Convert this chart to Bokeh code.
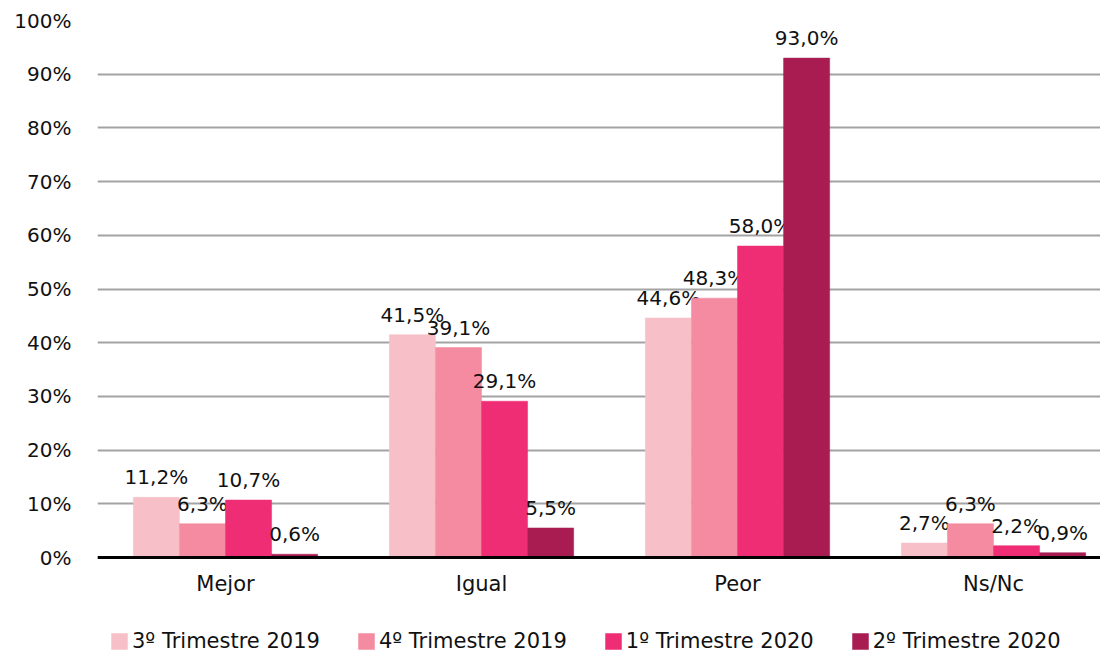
from bokeh.plotting import figure
from bokeh.models import Range1d, FixedTicker, PrintfTickFormatter, Legend, LegendItem, ColumnDataSource
from bokeh.embed import file_html
from bokeh.resources import INLINE
from bokeh.core.properties import value

categories = ["Mejor", "Igual", "Peor", "Ns/Nc"]
series_names = ["3º Trimestre 2019", "4º Trimestre 2019", "1º Trimestre 2020", "2º Trimestre 2020"]
t3_2019 = [11.2, 41.5, 44.6, 2.7]
t4_2019 = [6.3, 39.1, 48.3, 6.3]
t1_2020 = [10.7, 29.1, 58.0, 2.2]
t2_2020 = [0.6, 5.5, 93.0, 0.9]
series_values = [t3_2019, t4_2019, t1_2020, t2_2020]
colors = ["#F7C0C9", "#F48BA0", "#EE2D74", "#A91C52"]
y_ticks = [0, 10, 20, 30, 40, 50, 60, 70, 80, 90, 100]

FONT = "DejaVu Sans"
bar_w = 0.18
W, H = 1100, 653
frame_left, frame_top, zero_px = 97, 20, 557
x_end = (W - frame_left) / 256
px_per_unit = (zero_px - frame_top) / 100
y_start = -(H - zero_px) / px_per_unit

p = figure(width=W, height=H, output_backend="svg", toolbar_location=None,
           x_range=Range1d(0, x_end), y_range=Range1d(y_start, 100),
           min_border_left=frame_left, min_border_right=0, min_border_top=frame_top,
           min_border_bottom=0)
p.outline_line_color = None
p.background_fill_color = "white"
p.border_fill_color = "white"

items = []
for i, (name, vals, col) in enumerate(zip(series_names, series_values, colors)):
    off = (i - 1.5) * bar_w
    xs = [k + 0.5 + off for k in range(len(categories))]
    labels = [f"{v:.1f}".replace(".", ",") + "%" for v in vals]
    src = ColumnDataSource(dict(x=xs, top=vals, label=labels))
    r = p.vbar(x="x", top="top", bottom=0, width=bar_w, source=src,
               fill_color=col, line_color=col, line_width=0.5)
    p.text(x="x", y="top", text="label", source=src, text_align="center",
           text_baseline="bottom", y_offset=-8, text_font=value(FONT),
           text_font_size="20px", text_color="#111111")
    items.append(LegendItem(label=name, renderers=[r]))

# axes
p.xaxis.fixed_location = 0
p.xaxis.ticker = FixedTicker(ticks=[k + 0.5 for k in range(len(categories))])
p.xaxis.major_label_overrides = {k + 0.5: c for k, c in enumerate(categories)}
p.xaxis.axis_line_color = "black"
p.xaxis.axis_line_width = 3
p.xaxis.major_tick_line_color = None
p.xaxis.minor_tick_line_color = None
p.xaxis.major_label_standoff = 8
p.xaxis.major_label_text_font = FONT
p.xaxis.major_label_text_font_size = "21px"
p.xaxis.major_label_text_color = "#111111"

p.yaxis.ticker = FixedTicker(ticks=y_ticks)
p.yaxis.formatter = PrintfTickFormatter(format="%d%%")
p.yaxis.axis_line_color = None
p.yaxis.major_tick_line_color = None
p.yaxis.minor_tick_line_color = None
p.yaxis.major_label_standoff = 20
p.yaxis.major_label_text_font = FONT
p.yaxis.major_label_text_font_size = "20px"
p.yaxis.major_label_text_color = "#111111"

p.xgrid.grid_line_color = None
p.ygrid.ticker = FixedTicker(ticks=y_ticks)
p.ygrid.grid_line_color = "#A3A3A3"
p.ygrid.grid_line_width = 2

legend = Legend(items=items, orientation="horizontal", location=(12, 0),
                glyph_width=20, glyph_height=20, label_standoff=3, spacing=36,
                label_text_font=FONT, label_text_font_size="21px",
                label_text_color="#111111", label_height=20,
                padding=0, margin=0, border_line_color=None,
                background_fill_alpha=0)
p.add_layout(legend, "center")

open("out.html", "w").write(file_html(p, INLINE))
